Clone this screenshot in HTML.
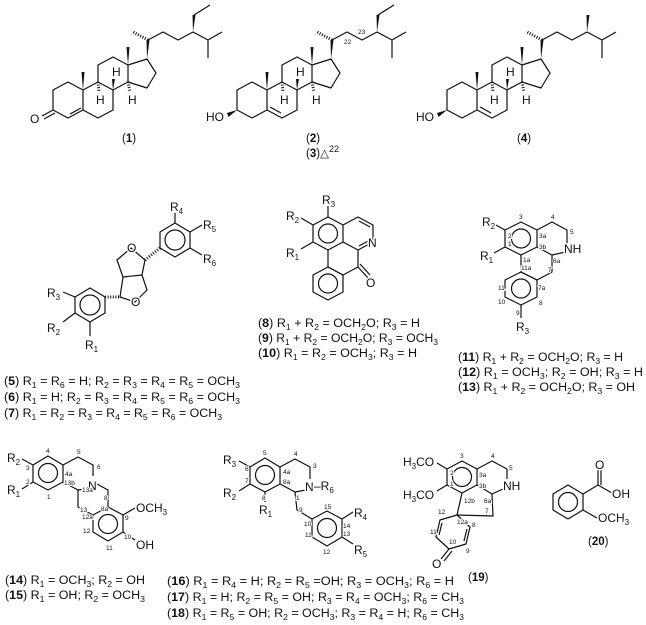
<!DOCTYPE html>
<html><head><meta charset="utf-8">
<style>
html,body{margin:0;padding:0;background:#fff;}
svg{display:block;}
text{font-family:"Liberation Sans",Arial,sans-serif;fill:#111;}
.a{font-size:12px;paint-order:stroke;stroke:#fff;stroke-width:3px;}
.n{font-size:6.5px;paint-order:stroke;stroke:#fff;stroke-width:2px;}
.l{font-size:11.5px;}
.b{font-weight:bold;}
</style></head><body>
<svg width="646" height="625" viewBox="0 0 646 625" xmlns="http://www.w3.org/2000/svg">
<defs>
<g id="core" fill="none" stroke="#111" stroke-width="1.2" stroke-linejoin="round">
<path d="M68,82 L53,90 L53,110 L68,118 L83,110 L83,90 Z M83,110 L98,118 L113,110 L113,90 L98,82 L83,90 M98,82 L98,65 L113,57 L128,65 L128,82 L113,90 M128,65 L147,59 L156,73 L147,88 L128,82 M148,40 L163,32 L178,40 L193,32 L208,40 L208,58 M208,40 L222,32"/>
<polygon points="83,90 81.5,72 84.5,72" fill="#111" stroke="none"/>
<polygon points="128,65 126.5,47 129.5,47" fill="#111" stroke="none"/>
<polygon points="147,59 146.5,40 149.5,40" fill="#111" stroke="none"/>
<polygon points="193,32 192.5,15 195.5,15" fill="#111" stroke="none"/>
<polygon points="113,90 112,79 115,79" fill="#111" stroke="none"/>
<line x1="148" y1="40" x2="133" y2="32" stroke-width="3" stroke-dasharray="1 1.6"/>
<line x1="98" y1="82" x2="99" y2="92" stroke-width="3" stroke-dasharray="1 1.6"/>
<line x1="128" y1="82" x2="130" y2="92" stroke-width="3" stroke-dasharray="1 1.6"/>
</g>
</defs>

<!-- Steroid 1 -->
<use href="#core"/>
<g fill="none" stroke="#111" stroke-width="1.2">
<line x1="70" y1="114" x2="81" y2="108"/>
<line x1="53" y1="110" x2="42" y2="116"/><line x1="55" y1="113" x2="44" y2="119"/>
<line x1="194" y1="15" x2="210" y2="5"/>
</g>
<text class="a" x="30" y="123">O</text>
<text class="a" x="112" y="76">H</text>
<text class="a" x="96" y="104">H</text>
<text class="a" x="128" y="104">H</text>
<text class="l" x="122" y="142"><tspan>(</tspan><tspan class="b">1</tspan><tspan>)</tspan></text>

<!-- Steroid 2 -->
<g transform="translate(184,0)">
<use href="#core"/>
<g fill="none" stroke="#111" stroke-width="1.2">
<line x1="86" y1="107" x2="97" y2="113"/>
<line x1="194" y1="15" x2="210" y2="5"/>
</g>
<polygon points="53,110 43,113 44.5,117" fill="#111"/>
<text class="a" x="22" y="121">HO</text>
<text class="a" x="112" y="76">H</text>
<text class="a" x="96" y="104">H</text>
<text class="a" x="128" y="104">H</text>
<text class="n" x="160" y="44">22</text>
<text class="n" x="174" y="34">23</text>
</g>
<text class="l" x="306" y="142"><tspan>(</tspan><tspan class="b">2</tspan><tspan>)</tspan></text>
<text class="l" x="306" y="157"><tspan>(</tspan><tspan class="b">3</tspan><tspan>)△</tspan><tspan font-size="9" dy="-5">22</tspan></text>

<!-- Steroid 4 -->
<g transform="translate(394,0)">
<use href="#core"/>
<g fill="none" stroke="#111" stroke-width="1.2">
<line x1="86" y1="107" x2="97" y2="113"/>
</g>
<polygon points="53,110 43,113 44.5,117" fill="#111"/>
<text class="a" x="22" y="121">HO</text>
<text class="a" x="112" y="76">H</text>
<text class="a" x="96" y="104">H</text>
<text class="a" x="128" y="104">H</text>
</g>
<text class="l" x="517" y="142"><tspan>(</tspan><tspan class="b">4</tspan><tspan>)</tspan></text>

<!-- Structure 5-7 -->
<g fill="none" stroke="#111" stroke-width="1.2" stroke-linejoin="round">
<path d="M75,297 L90,288 L105,297 L105,313 L90,322 L75,313 Z"/>
<circle cx="90" cy="305" r="10"/>
<path d="M75,297 L63,292 M75,313 L63,322 M90,322 L90,336"/>
<path d="M120,297 L135,302 L147,290 L142,275 L123,277 Z M123,277 L117,260 L131,248 L145,260 L142,275"/>
<line x1="105" y1="297" x2="120" y2="297" stroke-width="3" stroke-dasharray="1 1.6"/>
<line x1="145" y1="260" x2="160" y2="248" stroke-width="3" stroke-dasharray="1 1.6"/>
<path d="M175,223 L190,232 L190,248 L175,257 L160,248 L160,232 Z"/>
<circle cx="175" cy="240" r="10"/>
<path d="M175,223 L175,213 M190,232 L202,225 M190,248 L202,255"/>
</g>
<text class="a" x="131" y="306">O</text>
<text class="a" x="127" y="252">O</text>
<text class="a" x="47" y="297">R<tspan font-size="8" dy="3">3</tspan></text>
<text class="a" x="47" y="332">R<tspan font-size="8" dy="3">2</tspan></text>
<text class="a" x="85" y="349">R<tspan font-size="8" dy="3">1</tspan></text>
<text class="a" x="170" y="211">R<tspan font-size="8" dy="3">4</tspan></text>
<text class="a" x="203" y="229">R<tspan font-size="8" dy="3">5</tspan></text>
<text class="a" x="203" y="263">R<tspan font-size="8" dy="3">6</tspan></text>
<text class="l" x="4" y="385" textLength="236" lengthAdjust="spacingAndGlyphs">(<tspan class="b">5</tspan>) R<tspan font-size="8" dy="3">1</tspan><tspan dy="-3"> = R</tspan><tspan font-size="8" dy="3">6</tspan><tspan dy="-3"> = H; R</tspan><tspan font-size="8" dy="3">2</tspan><tspan dy="-3"> = R</tspan><tspan font-size="8" dy="3">3</tspan><tspan dy="-3"> = R</tspan><tspan font-size="8" dy="3">4</tspan><tspan dy="-3"> = R</tspan><tspan font-size="8" dy="3">5</tspan><tspan dy="-3"> = OCH</tspan><tspan font-size="8" dy="3">3</tspan></text>
<text class="l" x="4" y="401" textLength="236" lengthAdjust="spacingAndGlyphs">(<tspan class="b">6</tspan>) R<tspan font-size="8" dy="3">1</tspan><tspan dy="-3"> = H; R</tspan><tspan font-size="8" dy="3">2</tspan><tspan dy="-3"> = R</tspan><tspan font-size="8" dy="3">3</tspan><tspan dy="-3"> = R</tspan><tspan font-size="8" dy="3">4</tspan><tspan dy="-3"> = R</tspan><tspan font-size="8" dy="3">5</tspan><tspan dy="-3"> = R</tspan><tspan font-size="8" dy="3">6</tspan><tspan dy="-3"> = OCH</tspan><tspan font-size="8" dy="3">3</tspan></text>
<text class="l" x="4" y="417" textLength="218" lengthAdjust="spacingAndGlyphs">(<tspan class="b">7</tspan>) R<tspan font-size="8" dy="3">1</tspan><tspan dy="-3"> = R</tspan><tspan font-size="8" dy="3">2</tspan><tspan dy="-3"> = R</tspan><tspan font-size="8" dy="3">3</tspan><tspan dy="-3"> = R</tspan><tspan font-size="8" dy="3">4</tspan><tspan dy="-3"> = R</tspan><tspan font-size="8" dy="3">5</tspan><tspan dy="-3"> = R</tspan><tspan font-size="8" dy="3">6</tspan><tspan dy="-3"> = OCH</tspan><tspan font-size="8" dy="3">3</tspan></text>

<!-- Structure 8-10 -->
<g fill="none" stroke="#111" stroke-width="1.2" stroke-linejoin="round">
<path d="M328,217 L343,225 L343,242 L328,250 L313,242 L313,225 Z"/>
<circle cx="328" cy="233.5" r="9.5"/>
<path d="M343,225 L358,217 L373,225 L373,242 L358,250 L343,242"/>
<path d="M359,221 L370,227 M370,240 L359,246"/>
<path d="M358,250 L358,267 L343,275 L328,267 L328,250"/>
<path d="M328,267 L343,275 L343,292 L328,300 L313,292 L313,275 Z"/>
<circle cx="328" cy="283.5" r="9.5"/>
<path d="M358,267 L368,278 M360,264 L370,275"/>
<path d="M328,217 L328,206 M313,225 L301,218 M313,242 L301,249"/>
</g>
<text class="a" x="368" y="247">N</text>
<text class="a" x="366" y="287">O</text>
<text class="a" x="322" y="204">R<tspan font-size="8" dy="3">3</tspan></text>
<text class="a" x="286" y="220">R<tspan font-size="8" dy="3">2</tspan></text>
<text class="a" x="286" y="257">R<tspan font-size="8" dy="3">1</tspan></text>
<text class="l" x="258" y="327" textLength="162" lengthAdjust="spacingAndGlyphs">(<tspan class="b">8</tspan>) R<tspan font-size="8" dy="3">1</tspan><tspan dy="-3"> + R</tspan><tspan font-size="8" dy="3">2</tspan><tspan dy="-3"> = OCH</tspan><tspan font-size="8" dy="3">2</tspan><tspan dy="-3">O; R</tspan><tspan font-size="8" dy="3">3</tspan><tspan dy="-3"> = H</tspan></text>
<text class="l" x="258" y="342" textLength="180" lengthAdjust="spacingAndGlyphs">(<tspan class="b">9</tspan>) R<tspan font-size="8" dy="3">1</tspan><tspan dy="-3"> + R</tspan><tspan font-size="8" dy="3">2</tspan><tspan dy="-3"> = OCH</tspan><tspan font-size="8" dy="3">2</tspan><tspan dy="-3">O; R</tspan><tspan font-size="8" dy="3">3</tspan><tspan dy="-3"> = OCH</tspan><tspan font-size="8" dy="3">3</tspan></text>
<text class="l" x="258" y="357" textLength="159" lengthAdjust="spacingAndGlyphs">(<tspan class="b">10</tspan>) R<tspan font-size="8" dy="3">1</tspan><tspan dy="-3"> = R</tspan><tspan font-size="8" dy="3">2</tspan><tspan dy="-3"> = OCH</tspan><tspan font-size="8" dy="3">3</tspan><tspan dy="-3">; R</tspan><tspan font-size="8" dy="3">3</tspan><tspan dy="-3"> = H</tspan></text>

<!-- Structure 11-13 -->
<g fill="none" stroke="#111" stroke-width="1.2" stroke-linejoin="round">
<path d="M505,230 L521,222 L537,230 L537,247 L521,255 L505,247 Z"/>
<circle cx="521" cy="238.5" r="9.5"/>
<path d="M537,230 L552,222 L567,230 L567,243 M566,252 L552,255 L537,247"/>
<path d="M521,255 L521,272 L537,280 L552,272 L552,255"/>
<path d="M521,272 L537,280 L537,297 L521,305 L505,297 L505,280 Z"/>
<circle cx="521" cy="288.5" r="9.5"/>
<path d="M521,305 L521,318 M505,230 L494,224 M505,247 L494,253"/>
</g>
<text class="a" x="564" y="253">NH</text>
<text class="a" x="482" y="226">R<tspan font-size="8" dy="3">2</tspan></text>
<text class="a" x="480" y="260">R<tspan font-size="8" dy="3">1</tspan></text>
<text class="a" x="516" y="331">R<tspan font-size="8" dy="3">3</tspan></text>
<g class="n">
<text x="519" y="219">3</text><text x="551" y="219">4</text><text x="570" y="234">5</text>
<text x="539" y="238">3a</text><text x="539" y="249">3b</text><text x="508" y="238">2</text><text x="508" y="246">1</text>
<text x="553" y="263">6a</text><text x="523" y="262">1a</text><text x="521" y="270">11a</text>
<text x="548" y="272">7</text><text x="538" y="290">7a</text><text x="498" y="290">11</text>
<text x="498" y="304">10</text><text x="539" y="305">8</text><text x="516" y="315">9</text>
</g>
<text class="l" x="458" y="361" textLength="165" lengthAdjust="spacingAndGlyphs">(<tspan class="b">11</tspan>) R<tspan font-size="8" dy="3">1</tspan><tspan dy="-3"> + R</tspan><tspan font-size="8" dy="3">2</tspan><tspan dy="-3"> = OCH</tspan><tspan font-size="8" dy="3">2</tspan><tspan dy="-3">O; R</tspan><tspan font-size="8" dy="3">3</tspan><tspan dy="-3"> = H</tspan></text>
<text class="l" x="458" y="376" textLength="185" lengthAdjust="spacingAndGlyphs">(<tspan class="b">12</tspan>) R<tspan font-size="8" dy="3">1</tspan><tspan dy="-3"> = OCH</tspan><tspan font-size="8" dy="3">3</tspan><tspan dy="-3">; R</tspan><tspan font-size="8" dy="3">2</tspan><tspan dy="-3"> = OH; R</tspan><tspan font-size="8" dy="3">3</tspan><tspan dy="-3"> = H</tspan></text>
<text class="l" x="458" y="391" textLength="177" lengthAdjust="spacingAndGlyphs">(<tspan class="b">13</tspan>) R<tspan font-size="8" dy="3">1</tspan><tspan dy="-3"> + R</tspan><tspan font-size="8" dy="3">2</tspan><tspan dy="-3"> = OCH</tspan><tspan font-size="8" dy="3">2</tspan><tspan dy="-3">O; R</tspan><tspan font-size="8" dy="3">3</tspan><tspan dy="-3"> = OH</tspan></text>

<!-- Structure 14-15 -->
<g fill="none" stroke="#111" stroke-width="1.2" stroke-linejoin="round">
<path d="M48,456 L63,465 L63,482 L48,490 L33,482 L33,465 Z"/>
<circle cx="48" cy="473" r="9.5"/>
<path d="M63,465 L78,457 L93,465 L93,476 M93,488 L78,490 L63,482"/>
<path d="M78,490 L78,507 L93,515 L108,507 L108,490 L97,484"/>
<path d="M108,507 L123,515 L123,532 L108,541 L93,532 L93,515"/>
<circle cx="108" cy="524" r="9.5"/>
<path d="M33,465 L22,459 M33,482 L22,489 M123,515 L135,508 M123,532 L135,540"/>
</g>
<text class="a" x="88" y="490">N</text>
<text class="a" x="7" y="462">R<tspan font-size="8" dy="3">2</tspan></text>
<text class="a" x="7" y="494">R<tspan font-size="8" dy="3">1</tspan></text>
<text class="a" x="136" y="512">OCH<tspan font-size="8" dy="3">3</tspan></text>
<text class="a" x="136" y="549">OH</text>
<g class="n">
<text x="46" y="453">4</text><text x="77" y="454">5</text><text x="97" y="469">6</text>
<text x="26" y="470">3</text><text x="26" y="484">2</text><text x="47" y="499">1</text>
<text x="65" y="476">4a</text><text x="64" y="485">13b</text><text x="82" y="492">13a</text>
<text x="104" y="500">8</text><text x="80" y="512">13</text><text x="101" y="511">8a</text>
<text x="82" y="519">12a</text><text x="125" y="520">9</text><text x="83" y="533">12</text>
<text x="124" y="539">10</text><text x="106" y="550">11</text>
</g>
<text class="l" x="5" y="584" textLength="140" lengthAdjust="spacingAndGlyphs">(<tspan class="b">14</tspan>) R<tspan font-size="8" dy="3">1</tspan><tspan dy="-3"> = OCH</tspan><tspan font-size="8" dy="3">3</tspan><tspan dy="-3">; R</tspan><tspan font-size="8" dy="3">2</tspan><tspan dy="-3"> = OH</tspan></text>
<text class="l" x="5" y="599" textLength="140" lengthAdjust="spacingAndGlyphs">(<tspan class="b">15</tspan>) R<tspan font-size="8" dy="3">1</tspan><tspan dy="-3"> = OH; R</tspan><tspan font-size="8" dy="3">2</tspan><tspan dy="-3"> = OCH</tspan><tspan font-size="8" dy="3">3</tspan></text>

<!-- Structure 16-18 -->
<g fill="none" stroke="#111" stroke-width="1.2" stroke-linejoin="round">
<path d="M265,458 L280,467 L280,484 L265,492 L250,484 L250,467 Z"/>
<circle cx="265" cy="475" r="9.5"/>
<path d="M280,467 L295,459 L310,467 L310,479 M306,490 L295,492 L280,484"/>
<path d="M295,492 L297,510 L312,519"/>
<path d="M327,511 L342,519 L342,537 L327,546 L312,537 L312,519 Z"/>
<circle cx="327" cy="528" r="9.5"/>
<path d="M250,467 L239,461 M250,484 L239,491 M265,492 L265,502 M342,519 L353,512 M342,537 L353,544"/>
</g>
<text class="a" x="305" y="491">N</text>
<text class="a" x="314" y="490">–R<tspan font-size="8" dy="3">6</tspan></text>
<text class="a" x="223" y="464">R<tspan font-size="8" dy="3">3</tspan></text>
<text class="a" x="223" y="497">R<tspan font-size="8" dy="3">2</tspan></text>
<text class="a" x="259" y="514">R<tspan font-size="8" dy="3">1</tspan></text>
<text class="a" x="354" y="517">R<tspan font-size="8" dy="3">4</tspan></text>
<text class="a" x="354" y="554">R<tspan font-size="8" dy="3">5</tspan></text>
<g class="n">
<text x="263" y="455">5</text><text x="294" y="456">4</text><text x="313" y="468">3</text>
<text x="245" y="471">6</text><text x="245" y="483">7</text><text x="262" y="500">8</text>
<text x="283" y="474">4a</text><text x="283" y="484">8a</text><text x="296" y="500">1</text>
<text x="299" y="512">9</text><text x="324" y="509">15</text><text x="343" y="528">14</text>
<text x="343" y="536">13</text><text x="304" y="526">10</text><text x="305" y="537">11</text><text x="323" y="554">12</text>
</g>
<text class="l" x="167" y="585" textLength="287" lengthAdjust="spacingAndGlyphs">(<tspan class="b">16</tspan>) R<tspan font-size="8" dy="3">1</tspan><tspan dy="-3"> = R</tspan><tspan font-size="8" dy="3">4</tspan><tspan dy="-3"> = H; R</tspan><tspan font-size="8" dy="3">2</tspan><tspan dy="-3"> = R</tspan><tspan font-size="8" dy="3">5</tspan><tspan dy="-3"> =OH; R</tspan><tspan font-size="8" dy="3">3</tspan><tspan dy="-3"> = OCH</tspan><tspan font-size="8" dy="3">3</tspan><tspan dy="-3">; R</tspan><tspan font-size="8" dy="3">6</tspan><tspan dy="-3"> = H</tspan></text>
<text class="l" x="167" y="601" textLength="297" lengthAdjust="spacingAndGlyphs">(<tspan class="b">17</tspan>) R<tspan font-size="8" dy="3">1</tspan><tspan dy="-3"> = H; R</tspan><tspan font-size="8" dy="3">2</tspan><tspan dy="-3"> = R</tspan><tspan font-size="8" dy="3">5</tspan><tspan dy="-3"> = OH; R</tspan><tspan font-size="8" dy="3">3</tspan><tspan dy="-3"> = R</tspan><tspan font-size="8" dy="3">4</tspan><tspan dy="-3"> = OCH</tspan><tspan font-size="8" dy="3">3</tspan><tspan dy="-3">; R</tspan><tspan font-size="8" dy="3">6</tspan><tspan dy="-3"> = CH</tspan><tspan font-size="8" dy="3">3</tspan></text>
<text class="l" x="167" y="617" textLength="297" lengthAdjust="spacingAndGlyphs">(<tspan class="b">18</tspan>) R<tspan font-size="8" dy="3">1</tspan><tspan dy="-3"> = R</tspan><tspan font-size="8" dy="3">5</tspan><tspan dy="-3"> = OH; R</tspan><tspan font-size="8" dy="3">2</tspan><tspan dy="-3"> = OCH</tspan><tspan font-size="8" dy="3">3</tspan><tspan dy="-3">; R</tspan><tspan font-size="8" dy="3">3</tspan><tspan dy="-3"> = R</tspan><tspan font-size="8" dy="3">4</tspan><tspan dy="-3"> = H; R</tspan><tspan font-size="8" dy="3">6</tspan><tspan dy="-3"> = CH</tspan><tspan font-size="8" dy="3">3</tspan></text>

<!-- Structure 19 -->
<g fill="none" stroke="#111" stroke-width="1.2" stroke-linejoin="round">
<path d="M462,461 L477,469 L477,485 L462,493 L447,485 L447,469 Z"/>
<circle cx="462" cy="477" r="9.5"/>
<path d="M477,469 L492,461 L507,469 L507,479 M503,489 L492,494 L477,485"/>
<path d="M462,493 L457,515 L493,516 L492,494"/>
<path d="M457,515 L470,527 L466,544 L449,549 L436,537 L440,520 Z"/>
<path d="M467,529 L464,541 M439,535 L442,523"/>
<path d="M449,549 L441,559 M452,551 L444,561"/>
<path d="M447,469 L437,463 M447,485 L437,491"/>
</g>
<text class="a" x="503" y="490">NH</text>
<text class="a" x="432" y="568">O</text>
<text class="a" x="403" y="466">H<tspan font-size="8" dy="3">3</tspan><tspan dy="-3">CO</tspan></text>
<text class="a" x="403" y="499">H<tspan font-size="8" dy="3">3</tspan><tspan dy="-3">CO</tspan></text>
<g class="n">
<text x="460" y="458">3</text><text x="491" y="458">4</text><text x="509" y="470">5</text>
<text x="450" y="475">2</text><text x="450" y="486">1</text><text x="479" y="477">3a</text>
<text x="479" y="488">3b</text><text x="464" y="503">12b</text><text x="484" y="503">6a</text>
<text x="485" y="513">7</text><text x="457" y="524">12a</text><text x="438" y="514">12</text>
<text x="472" y="527">8</text><text x="430" y="534">11</text><text x="449" y="544">10</text><text x="466" y="553">9</text>
</g>
<text class="l" x="468" y="581"><tspan>(</tspan><tspan class="b">19</tspan><tspan>)</tspan></text>

<!-- Structure 20 -->
<g fill="none" stroke="#111" stroke-width="1.2" stroke-linejoin="round">
<path d="M568,485 L583,494 L583,510 L568,519 L553,510 L553,494 Z"/>
<circle cx="568" cy="502" r="9.5"/>
<path d="M583,494 L598,485 L598,470 M601,485 L601,470 M598,485 L612,493 M583,510 L597,518"/>
</g>
<text class="a" x="595" y="469">O</text>
<text class="a" x="612" y="498">OH</text>
<text class="a" x="598" y="522">OCH<tspan font-size="8" dy="3">3</tspan></text>
<text class="l" x="588" y="545"><tspan>(</tspan><tspan class="b">20</tspan><tspan>)</tspan></text>
</svg>
</body></html>
